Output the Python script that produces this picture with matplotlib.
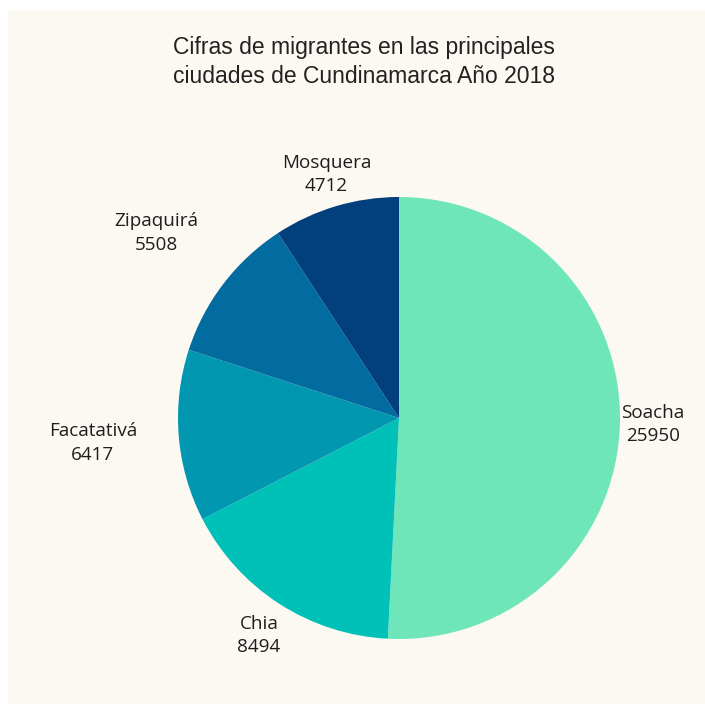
import numpy as np
import matplotlib.pyplot as plt
from matplotlib.patches import Rectangle

# Data
ciudades = ["Soacha", "Chia", "Facatativá", "Zipaquirá", "Mosquera"]
migrantes = [25950, 8494, 6417, 5508, 4712]
colores = ["#6fe6b9", "#00c1b8", "#0297b1", "#026ba0", "#023f7d"]
titulo = "Cifras de migrantes en las principales\nciudades de Cundinamarca Año 2018"

# Layout in pixel units (figure is 705 x 704)
W, H = 705, 704
cx, cy, r = 399, H - 418, 221
label_k = [1.15, 1.17, 1.39, 1.38, 1.15]   # radial distance of each label

fig = plt.figure(figsize=(W / 100, H / 100), dpi=100)
fig.patch.set_facecolor("white")

ax = fig.add_axes([0, 0, 1, 1])
ax.set_facecolor("none")

# cream panel
ax.add_patch(Rectangle((8, 0), W - 8, H - 10, facecolor="#fcf8f2",
                       edgecolor="none", zorder=0))

wedges, _ = ax.pie(migrantes, colors=colores, startangle=90, counterclock=False,
                   center=(cx, cy), radius=r,
                   wedgeprops=dict(linewidth=0, edgecolor="none", zorder=2))

for w, name, val, k in zip(wedges, ciudades, migrantes, label_k):
    ang = np.deg2rad((w.theta1 + w.theta2) / 2)
    x = cx + k * r * np.cos(ang)
    y = cy + k * r * np.sin(ang)
    ax.text(x, y, f"{name}\n{val}", ha="center", va="center",
            fontsize=13.6, family="Open Sans", color="#1e1e1e",
            linespacing=1.4, zorder=3)

ax.text(364, H - 62, titulo, ha="center", va="center", fontsize=16.5,
        family="Liberation Sans", color="#222222", linespacing=1.35, zorder=3)

ax.set_xlim(0, W)
ax.set_ylim(0, H)
ax.set_aspect("auto")
ax.axis("off")

fig.savefig("out.png", dpi=100, facecolor=fig.get_facecolor())
